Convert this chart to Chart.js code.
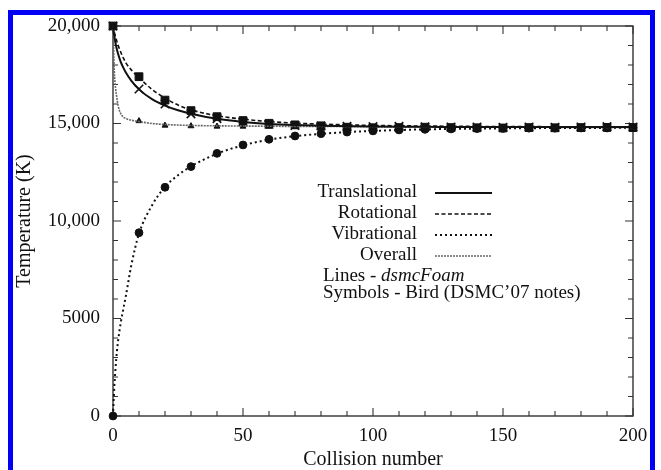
<!DOCTYPE html>
<html>
<head>
<meta charset="utf-8">
<script src="https://cdn.jsdelivr.net/npm/chart.js@4/dist/chart.umd.min.js"></script>
<style>
  html, body { margin: 0; padding: 0; background: #fff; overflow: hidden; }
  #wrap { position: relative; width: 661px; height: 470px; }
  #frame { position: absolute; left: 8px; top: 10px; width: 637px; height: 520px;
           border: 5px solid #0000f5; pointer-events: none; }
  canvas { position: absolute; left: 0; top: 0; }
</style>
</head>
<body>
<div id="wrap">
  <canvas id="chartTemp" width="661" height="470"></canvas>
  <div id="frame"></div>
</div>
<script>
// Bird (DSMC'07 notes) symbols, every 10 collisions
var symX = [0, 10, 20, 30, 40, 50, 60, 70, 80, 90, 100, 110, 120, 130, 140, 150, 160, 170, 180, 190, 200];
var transSym = [20000, 16770, 16000, 15490, 15250, 15080, 14960, 14900, 14870, 14850, 14840, 14850, 14830, 14820, 14820, 14810, 14820, 14810, 14820, 14840, 14820];
var rotSym = [20000, 17400, 16200, 15660, 15350, 15150, 15010, 14930, 14880, 14810, 14780, 14790, 14810, 14790, 14780, 14770, 14790, 14780, 14790, 14800, 14790];
var vibSym = [0, 9400, 11730, 12790, 13470, 13900, 14190, 14360, 14480, 14560, 14620, 14670, 14700, 14720, 14740, 14750, 14760, 14760, 14770, 14770, 14780];
var overallSym = [20000, 15130, 14900, 14870, 14850, 14850, 14840, 14840, 14830, 14820, 14810, 14810, 14810, 14800, 14800, 14800, 14800, 14800, 14800, 14800, 14800];

// dsmcFoam lines
var lineX = [0, 0.5, 1, 1.5, 2, 3, 4, 5, 7, 10, 15, 20, 25, 30, 40, 50, 60, 70, 80, 90, 100, 120, 140, 160, 180, 200];
var transLine = [20000, 19500, 19100, 18800, 18550, 18150, 17850, 17600, 17200, 16750, 16250, 15920, 15680, 15500, 15240, 15080, 14980, 14920, 14880, 14860, 14840, 14830, 14820, 14820, 14820, 14820];
var rotLine = [20000, 19700, 19450, 19200, 19000, 18650, 18350, 18100, 17750, 17350, 16750, 16300, 15950, 15700, 15400, 15220, 15100, 15020, 14970, 14930, 14900, 14870, 14850, 14840, 14830, 14830];
var vibLine = [0, 1500, 2500, 3300, 3900, 4800, 5500, 6200, 7700, 9350, 10800, 11750, 12350, 12800, 13450, 13880, 14170, 14350, 14470, 14560, 14620, 14700, 14740, 14760, 14770, 14780];
var overallLine = [20000, 17700, 16800, 16300, 15900, 15500, 15330, 15250, 15170, 15100, 15000, 14950, 14920, 14900, 14880, 14870, 14860, 14850, 14850, 14840, 14830, 14820, 14810, 14810, 14800, 14800];

var seriesNames = ["Translational", "Rotational", "Vibrational", "Overall"];
var yTickValues = [0, 5000, 10000, 15000, 20000];
var yTickLabels = ["0", "5000", "10,000", "15,000", "20,000"];
var xTickLabels = ["0", "50", "100", "150", "200"];

var serif = "'Liberation Serif', 'DejaVu Serif', serif";

function pairs(xs, ys){
  var out = [];
  for(var i = 0; i < xs.length; i++){
    out.push({x: xs[i], y: ys[i]});
  }
  return out;
}

function lineSet(name, values, color, width, dash){
  return {
    label: name,
    data: pairs(lineX, values),
    borderColor: color,
    borderWidth: width,
    borderDash: dash,
    pointRadius: 0,
    showLine: true,
    fill: false,
    cubicInterpolationMode: 'monotone',
    clip: false
  };
}

function symSet(name, values, style, radius){
  return {
    label: name + " (Bird)",
    data: pairs(symX, values),
    showLine: false,
    pointStyle: style,
    pointRadius: radius,
    pointBackgroundColor: '#111',
    pointBorderColor: '#111',
    pointBorderWidth: style === 'crossRot' ? 1.6 : 1,
    clip: false
  };
}

/* axis box with inward ticks on all four sides */
var frameTicks = {
  id: 'frameTicks',
  beforeDatasetsDraw: function(chart){
    var ctx = chart.ctx, a = chart.chartArea;
    var xs = chart.scales.x, ys = chart.scales.y;
    ctx.save();
    ctx.strokeStyle = '#333';
    ctx.lineWidth = 1.4;
    ctx.strokeRect(a.left, a.top, a.right - a.left, a.bottom - a.top);
    ctx.lineWidth = 1.1;
    ctx.beginPath();
    for(var v = xs.min; v <= xs.max; v += 10){
      var px = xs.getPixelForValue(v);
      var len = (v % 50 === 0) ? 8 : 5;
      ctx.moveTo(px, a.bottom); ctx.lineTo(px, a.bottom - len);
      ctx.moveTo(px, a.top); ctx.lineTo(px, a.top + len);
    }
    for(var w = ys.min; w <= ys.max; w += 1000){
      var py = ys.getPixelForValue(w);
      var len2 = (w % 5000 === 0) ? 8 : 5;
      ctx.moveTo(a.left, py); ctx.lineTo(a.left + len2, py);
      ctx.moveTo(a.right, py); ctx.lineTo(a.right - len2, py);
    }
    ctx.stroke();
    ctx.restore();
  }
};

/* key in the middle of the plot, text right aligned with the line sample after it */
var keyBox = {
  id: 'keyBox',
  afterDraw: function(chart){
    var ctx = chart.ctx;
    var rows = [192, 213, 234, 255];
    ctx.save();
    ctx.font = "19px " + serif;
    ctx.fillStyle = '#111';
    ctx.textBaseline = 'middle';
    for(var i = 0; i < 4; i++){
      var ds = chart.data.datasets[i];
      ctx.textAlign = 'right';
      ctx.fillText(ds.label, 417, rows[i]);
      ctx.beginPath();
      ctx.strokeStyle = ds.borderColor;
      ctx.lineWidth = ds.borderWidth;
      ctx.setLineDash(ds.borderDash);
      ctx.moveTo(435, rows[i] + 1);
      ctx.lineTo(492, rows[i] + 1);
      ctx.stroke();
    }
    ctx.setLineDash([]);
    ctx.textAlign = 'left';
    var lead = "Lines - ";
    ctx.fillText(lead, 323, 276);
    var w = ctx.measureText(lead).width;
    ctx.font = "italic 19px " + serif;
    ctx.fillText("dsmcFoam", 323 + w, 276);
    ctx.font = "19px " + serif;
    ctx.fillText("Symbols - Bird (DSMC\u201907 notes)", 323, 293);
    ctx.restore();
  }
};

function createTempChart(){
  var ctx = document.getElementById("chartTemp").getContext('2d');
  var chart = new Chart(ctx, {
    type: 'scatter',
    data: {
      datasets: [
        lineSet(seriesNames[0], transLine, '#111', 2, []),
        lineSet(seriesNames[1], rotLine, '#111', 1.6, [4, 2.5]),
        lineSet(seriesNames[2], vibLine, '#111', 2, [2, 3]),
        lineSet(seriesNames[3], overallLine, '#666', 1.6, [2, 1]),
        symSet(seriesNames[0], transSym, 'crossRot', 6),
        symSet(seriesNames[1], rotSym, 'rect', 5.5),
        symSet(seriesNames[2], vibSym, 'circle', 3.9),
        symSet(seriesNames[3], overallSym, 'triangle', 3.4)
      ]
    },
    options: {
      responsive: false,
      animation: false,
      devicePixelRatio: 1,
      layout: { padding: { left: 0, right: 28, top: 26, bottom: 0 } },
      plugins: { legend: { display: false }, tooltip: { enabled: false } },
      scales: {
        x: {
          type: 'linear', min: 0, max: 200,
          grid: { display: false, drawTicks: false },
          border: { display: false },
          ticks: {
            stepSize: 50, padding: 9, color: '#111', maxRotation: 0,
            font: { family: serif, size: 19 },
            callback: function(v){ return xTickLabels[v / 50]; }
          },
          title: {
            display: true, text: 'Collision number', color: '#111',
            font: { family: serif, size: 20, lineHeight: 1 },
            padding: { top: 0, bottom: 0 }
          },
          afterFit: function(s){ s.height = 54; }
        },
        y: {
          type: 'linear', min: 0, max: 20000,
          grid: { display: false, drawTicks: false },
          border: { display: false },
          ticks: {
            stepSize: 5000, padding: 13, color: '#111',
            font: { family: serif, size: 19 },
            callback: function(v){
              var k = yTickValues.indexOf(v);
              return k < 0 ? '' : yTickLabels[k];
            }
          },
          title: {
            display: true, text: 'Temperature (K)', color: '#111',
            font: { family: serif, size: 20, lineHeight: 1 },
            padding: { top: 15, bottom: 0 }
          },
          afterFit: function(s){ s.width = 113; }
        }
      }
    },
    plugins: [frameTicks, keyBox]
  });
}

createTempChart();
</script>
</body>
</html>
